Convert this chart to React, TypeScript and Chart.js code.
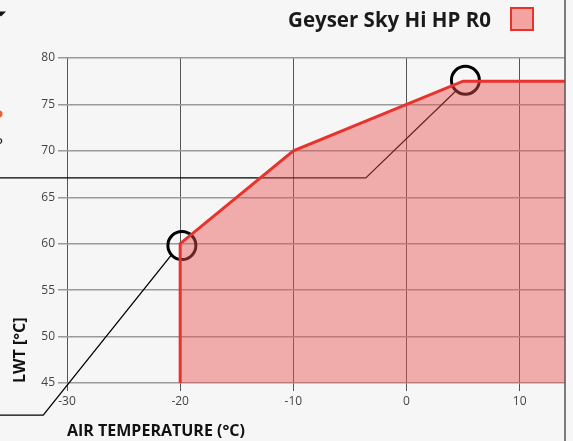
import React, { useEffect, useRef } from "react";
import { Chart, registerables } from "chart.js";

Chart.register(...registerables);

// ---- data ----
const seriesLabel = "Geyser Sky Hi HP R0";
const envelopeX = [-20, -20, -10, 5, 14];
const envelopeY = [45, 60, 70, 77.5, 77.5];
const markerX = [-19.85, 5.2];
const markerY = [59.8, 77.6];
// leader lines (listed from circle outward)
const leaderAX = [-20.7, -32.1, -36];
const leaderAY = [58.9, 41.55, 41.55];
const leaderBX = [4.4, -3.6, -36];
const leaderBY = [76.5, 67.08, 67.08];
const xMin = -30;
const xMax = 14;
const yMin = 45;
const yMax = 80;
const xTitle = "AIR TEMPERATURE (°C)";
const yTitle = "LWT [°C]";

const zip = (xs: number[], ys: number[]) => xs.map((x, i) => ({ x, y: ys[i] }));

const FONT = "'Open Sans', 'Noto Sans', sans-serif";
const RED = "#e8322b";
const PINK = "rgba(232,80,80,0.45)";

const decorPlugin = {
  id: "decor",
  beforeDraw(chart: any) {
    const { ctx, width, height } = chart;
    ctx.save();
    ctx.fillStyle = "#f6f6f6";
    ctx.fillRect(0, 0, width, height);
    ctx.restore();
  },
  afterDraw(chart: any) {
    const { ctx, chartArea, height } = chart;
    ctx.save();
    // right frame line
    ctx.strokeStyle = "#555";
    ctx.lineWidth = 1.5;
    ctx.beginPath();
    ctx.moveTo(chartArea.right, 0);
    ctx.lineTo(chartArea.right, height);
    ctx.stroke();

    // custom legend (from dataset 0)
    const ds = chart.data.datasets[0];
    ctx.font = `bold 20.5px ${FONT}`;
    ctx.fillStyle = "#1a1a1a";
    ctx.textBaseline = "middle";
    ctx.textAlign = "right";
    const boxRight = 533;
    const boxW = 22;
    const boxTop = 8;
    ctx.fillText(ds.label, boxRight - boxW - 20, 21);
    ctx.fillStyle = "#f3a3a0";
    ctx.fillRect(boxRight - boxW, boxTop, boxW, boxW);
    ctx.strokeStyle = ds.borderColor;
    ctx.lineWidth = 2;
    ctx.strokeRect(boxRight - boxW, boxTop, boxW, boxW);

    // cropped fragments at left edge
    ctx.fillStyle = "#111";
    ctx.beginPath();
    ctx.moveTo(-4, 11.5);
    ctx.lineTo(6, 11.5);
    ctx.lineTo(1, 16.5);
    ctx.closePath();
    ctx.fill();
    ctx.fillStyle = "#f06030";
    ctx.beginPath();
    ctx.arc(-1, 114, 3.5, 0, Math.PI * 2);
    ctx.fill();
    ctx.fillStyle = "#222";
    ctx.font = `15px ${FONT}`;
    ctx.textAlign = "left";
    ctx.textBaseline = "alphabetic";
    ctx.fillText("P", -6, 148);
    ctx.restore();
  },
};

export default function App() {
  const ref = useRef<HTMLCanvasElement>(null);

  useEffect(() => {
    document.body.style.margin = "0";
    const chart = new Chart(ref.current!, {
      type: "line",
      data: {
        datasets: [
          {
            label: seriesLabel,
            data: zip(envelopeX, envelopeY),
            borderColor: RED,
            backgroundColor: PINK,
            borderWidth: 3,
            fill: "start",
            pointRadius: 0,
            tension: 0,
          },
          {
            label: "leaderA",
            data: zip(leaderAX, leaderAY),
            borderColor: "#000",
            borderWidth: 1.3,
            pointRadius: 0,
            fill: false,
            clip: false as any,
          },
          {
            label: "leaderB",
            data: zip(leaderBX, leaderBY),
            borderColor: "#000",
            borderWidth: 1.3,
            pointRadius: 0,
            fill: false,
            clip: false as any,
          },
          {
            label: "markers",
            data: zip(markerX, markerY),
            showLine: false,
            pointRadius: 14,
            pointBorderWidth: 3,
            pointBorderColor: "#000",
            pointBackgroundColor: "rgba(0,0,0,0)",
            borderColor: "#000",
            fill: false,
            clip: false as any,
          },
        ],
      },
      options: {
        responsive: false,
        animation: false,
        events: [],
        layout: { autoPadding: false, padding: { top: 58, right: 8, left: 0, bottom: 0 } },
        plugins: {
          legend: { display: false },
          tooltip: { enabled: false },
        },
        scales: {
          x: {
            type: "linear",
            min: xMin,
            max: xMax,
            afterBuildTicks: (s: any) => {
              s.ticks = s.ticks.filter((t: any) => t.value % 10 === 0);
            },
            afterFit: (s: any) => {
              s.height = 58;
              s.paddingLeft = 0;
              s.paddingRight = 0;
            },
            ticks: {
              stepSize: 10,
              color: "#444",
              font: { family: FONT, size: 12 },
              padding: 3,
              maxRotation: 0,
            },
            grid: { color: "#555", lineWidth: 1, tickLength: 8 },
            border: { display: false },
            title: {
              display: true,
              text: xTitle,
              align: "start",
              color: "#111",
              font: { family: FONT, size: 16, weight: "bold" },
              padding: { top: 0, bottom: 0 },
            },
          },
          y: {
            type: "linear",
            min: yMin,
            max: yMax,
            afterFit: (s: any) => {
              s.width = 67;
              s.paddingTop = 0;
              s.paddingBottom = 0;
            },
            ticks: {
              stepSize: 5,
              color: "#444",
              font: { family: FONT, size: 12 },
              padding: 3,
            },
            grid: { color: "#9a9a9a", lineWidth: 1.5, tickLength: 9 },
            border: { display: false },
            title: {
              display: true,
              text: yTitle,
              align: "start",
              color: "#111",
              font: { family: FONT, size: 16, weight: "bold" },
              padding: { top: 11, bottom: 0 },
            },
          },
        },
      },
      plugins: [decorPlugin],
    });
    return () => chart.destroy();
  }, []);

  return (
    <div style={{ position: "fixed", left: 0, top: 0, width: 573, height: 441 }}>
      <canvas ref={ref} width={573} height={441} />
    </div>
  );
}
